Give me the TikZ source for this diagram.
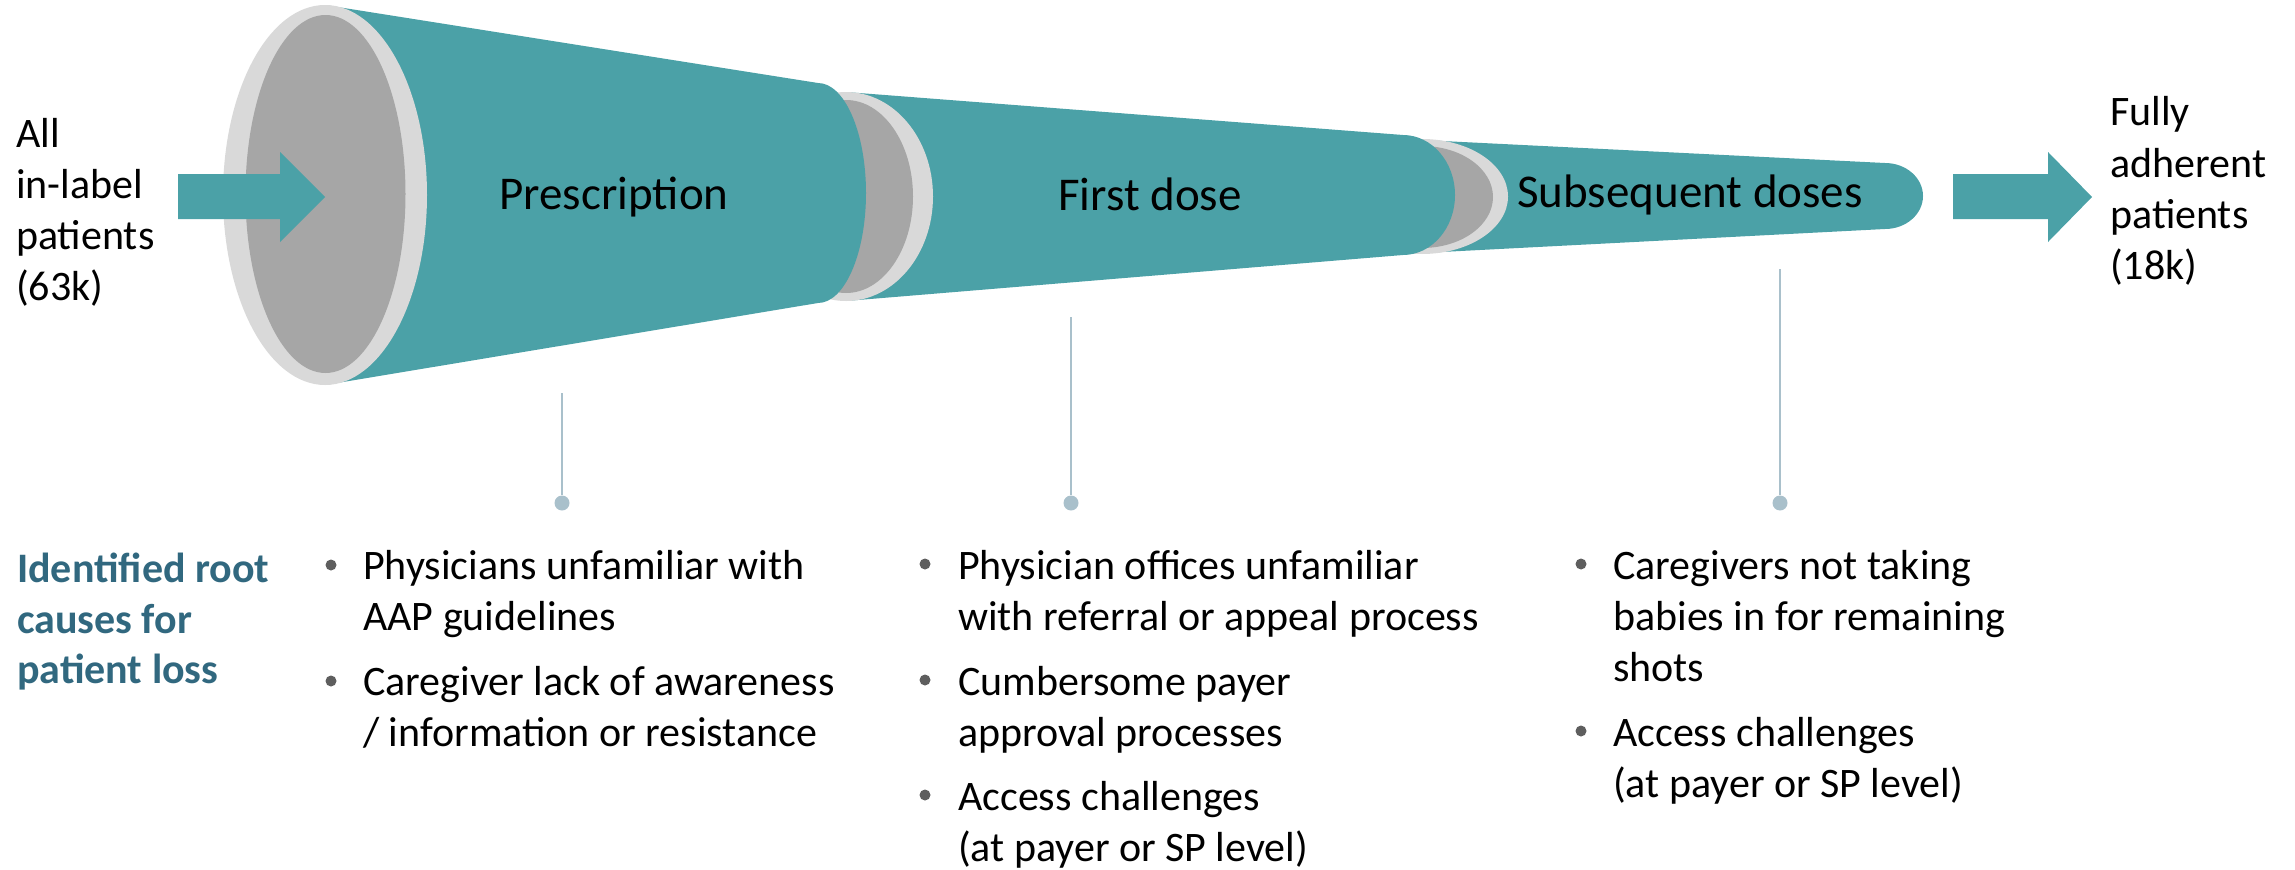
\documentclass[tikz,border=0pt]{standalone}
\usepackage{fontspec}
\setmainfont{Carlito}
\definecolor{funnelteal}{HTML}{4BA1A7}
\definecolor{rimlight}{HTML}{D9D9D9}
\definecolor{rimdark}{HTML}{A6A6A6}
\definecolor{causeblue}{HTML}{31687F}
\definecolor{stemgray}{HTML}{A9C0CB}
\definecolor{bulletgray}{HTML}{5E5E5E}
\begin{document}
\begin{tikzpicture}[x=1pt,y=-1pt,
  tube/.style={fill=funnelteal},
  rimouter/.style={fill=rimlight},
  riminner/.style={fill=rimdark},
  flow/.style={fill=funnelteal},
  sidelabel/.style={font=\fontsize{42}{51}\selectfont, anchor=base west, inner sep=0pt},
  stagelabel/.style={font=\fontsize{47}{56}\selectfont, anchor=base, inner sep=0pt},
  causehead/.style={font=\bfseries\fontsize{42}{51}\selectfont, text=causeblue, anchor=base west, inner sep=0pt},
  causeline/.style={font=\fontsize{42}{51}\selectfont, anchor=base west, inner sep=0pt},
  bulletdot/.style={circle, fill=bulletgray, minimum size=11pt, inner sep=0pt},
  stemdot/.style={circle, fill=stemgray, minimum size=15pt, inner sep=0pt},
  stem/.style={draw=stemgray, line width=2.2pt}
]
\useasboundingbox (0,0) rectangle (2295,870);

% third stage: subsequent doses
\fill[tube] (1422,140) -- (1885,163)
  arc[start angle=90, end angle=-90, x radius=38pt, y radius=33pt]
  -- (1422,253) -- cycle;
\fill[rimouter] (1422,196.5) ellipse [x radius=86pt, y radius=57.5pt];
\fill[riminner] (1422,197) ellipse [x radius=71pt, y radius=51pt];

% second stage: first dose
\fill[tube] (846,92) -- (1403,135)
  arc[start angle=90, end angle=-90, x radius=52pt, y radius=60pt]
  -- (846,301) -- cycle;
\fill[rimouter] (846,196.5) ellipse [x radius=87pt, y radius=104.5pt];
\fill[riminner] (846,196.5) ellipse [x radius=67pt, y radius=96.5pt];

% first stage: prescription
\fill[tube] (325,5) -- (818,83)
  arc[start angle=90, end angle=-90, x radius=48pt, y radius=110pt]
  -- (325,385) -- cycle;
\fill[rimouter] (325,195) ellipse [x radius=102pt, y radius=190pt];
\fill[riminner] (325.5,194) ellipse [x radius=80pt, y radius=179pt];

% inflow and outflow arrows
\fill[flow] (178,174) -- (280,174) -- (280,152) -- (325,197) -- (280,242)
  -- (280,219) -- (178,219) -- cycle;
\fill[flow] (1953,174) -- (2048,174) -- (2048,152) -- (2092,197) -- (2048,242)
  -- (2048,219) -- (1953,219) -- cycle;

% stage names
\node[stagelabel] (sPres) at (614,209) {Prescription};
\node[stagelabel] (sFirst) at (1150,210) {First dose};
\node[stagelabel] (sSub) at (1690,207) {Subsequent doses};

% patient counts at both ends
\node[sidelabel] (inA) at (16,147) {All};
\node[sidelabel] (inB) at (16,198) {in-label};
\node[sidelabel] (inC) at (16,249) {patients};
\node[sidelabel] (inD) at (16,300) {(63k)};
\node[sidelabel] (outA) at (2110,125) {Fully};
\node[sidelabel] (outB) at (2110,177) {adherent};
\node[sidelabel] (outC) at (2110,228) {patients};
\node[sidelabel] (outD) at (2110,279) {(18k)};

% stems from each stage down to its causes
\coordinate (t1) at (562,393);
\coordinate (t2) at (1071,317);
\coordinate (t3) at (1780,269);
\node[stemdot] (d1) at (562,503) {};
\node[stemdot] (d2) at (1071,503) {};
\node[stemdot] (d3) at (1780,503) {};
\draw[stem] (t1) -- (d1);
\draw[stem] (t2) -- (d2);
\draw[stem] (t3) -- (d3);

% heading of the causes row
\node[causehead] (hA) at (17,582) {Identified root};
\node[causehead] (hB) at (17,633) {causes for};
\node[causehead] (hC) at (17,683) {patient loss};

% causes at prescription
\node[bulletdot] (p1) at (331,565) {};
\node[causeline] (p1a) at (363,579) {Physicians unfamiliar with};
\node[causeline] (p1b) at (363,630) {AAP guidelines};
\node[bulletdot] (p2) at (331,681) {};
\node[causeline] (p2a) at (363,695) {Caregiver lack of awareness};
\node[causeline] (p2b) at (363,746) {/ information or resistance};

% causes at first dose
\node[bulletdot] (f1) at (925,564) {};
\node[causeline] (f1a) at (958,579) {Physician offices unfamiliar};
\node[causeline] (f1b) at (958,630) {with referral or appeal process};
\node[bulletdot] (f2) at (925,680) {};
\node[causeline] (f2a) at (958,695) {Cumbersome payer};
\node[causeline] (f2b) at (958,746) {approval processes};
\node[bulletdot] (f3) at (925,795) {};
\node[causeline] (f3a) at (958,810) {Access challenges};
\node[causeline] (f3b) at (958,861) {(at payer or SP level)};

% causes at subsequent doses
\node[bulletdot] (r1) at (1581,564) {};
\node[causeline] (r1a) at (1613,579) {Caregivers not taking};
\node[causeline] (r1b) at (1613,630) {babies in for remaining};
\node[causeline] (r1c) at (1613,681) {shots};
\node[bulletdot] (r2) at (1581,731) {};
\node[causeline] (r2a) at (1613,746) {Access challenges};
\node[causeline] (r2b) at (1613,797) {(at payer or SP level)};
\end{tikzpicture}
\end{document}
